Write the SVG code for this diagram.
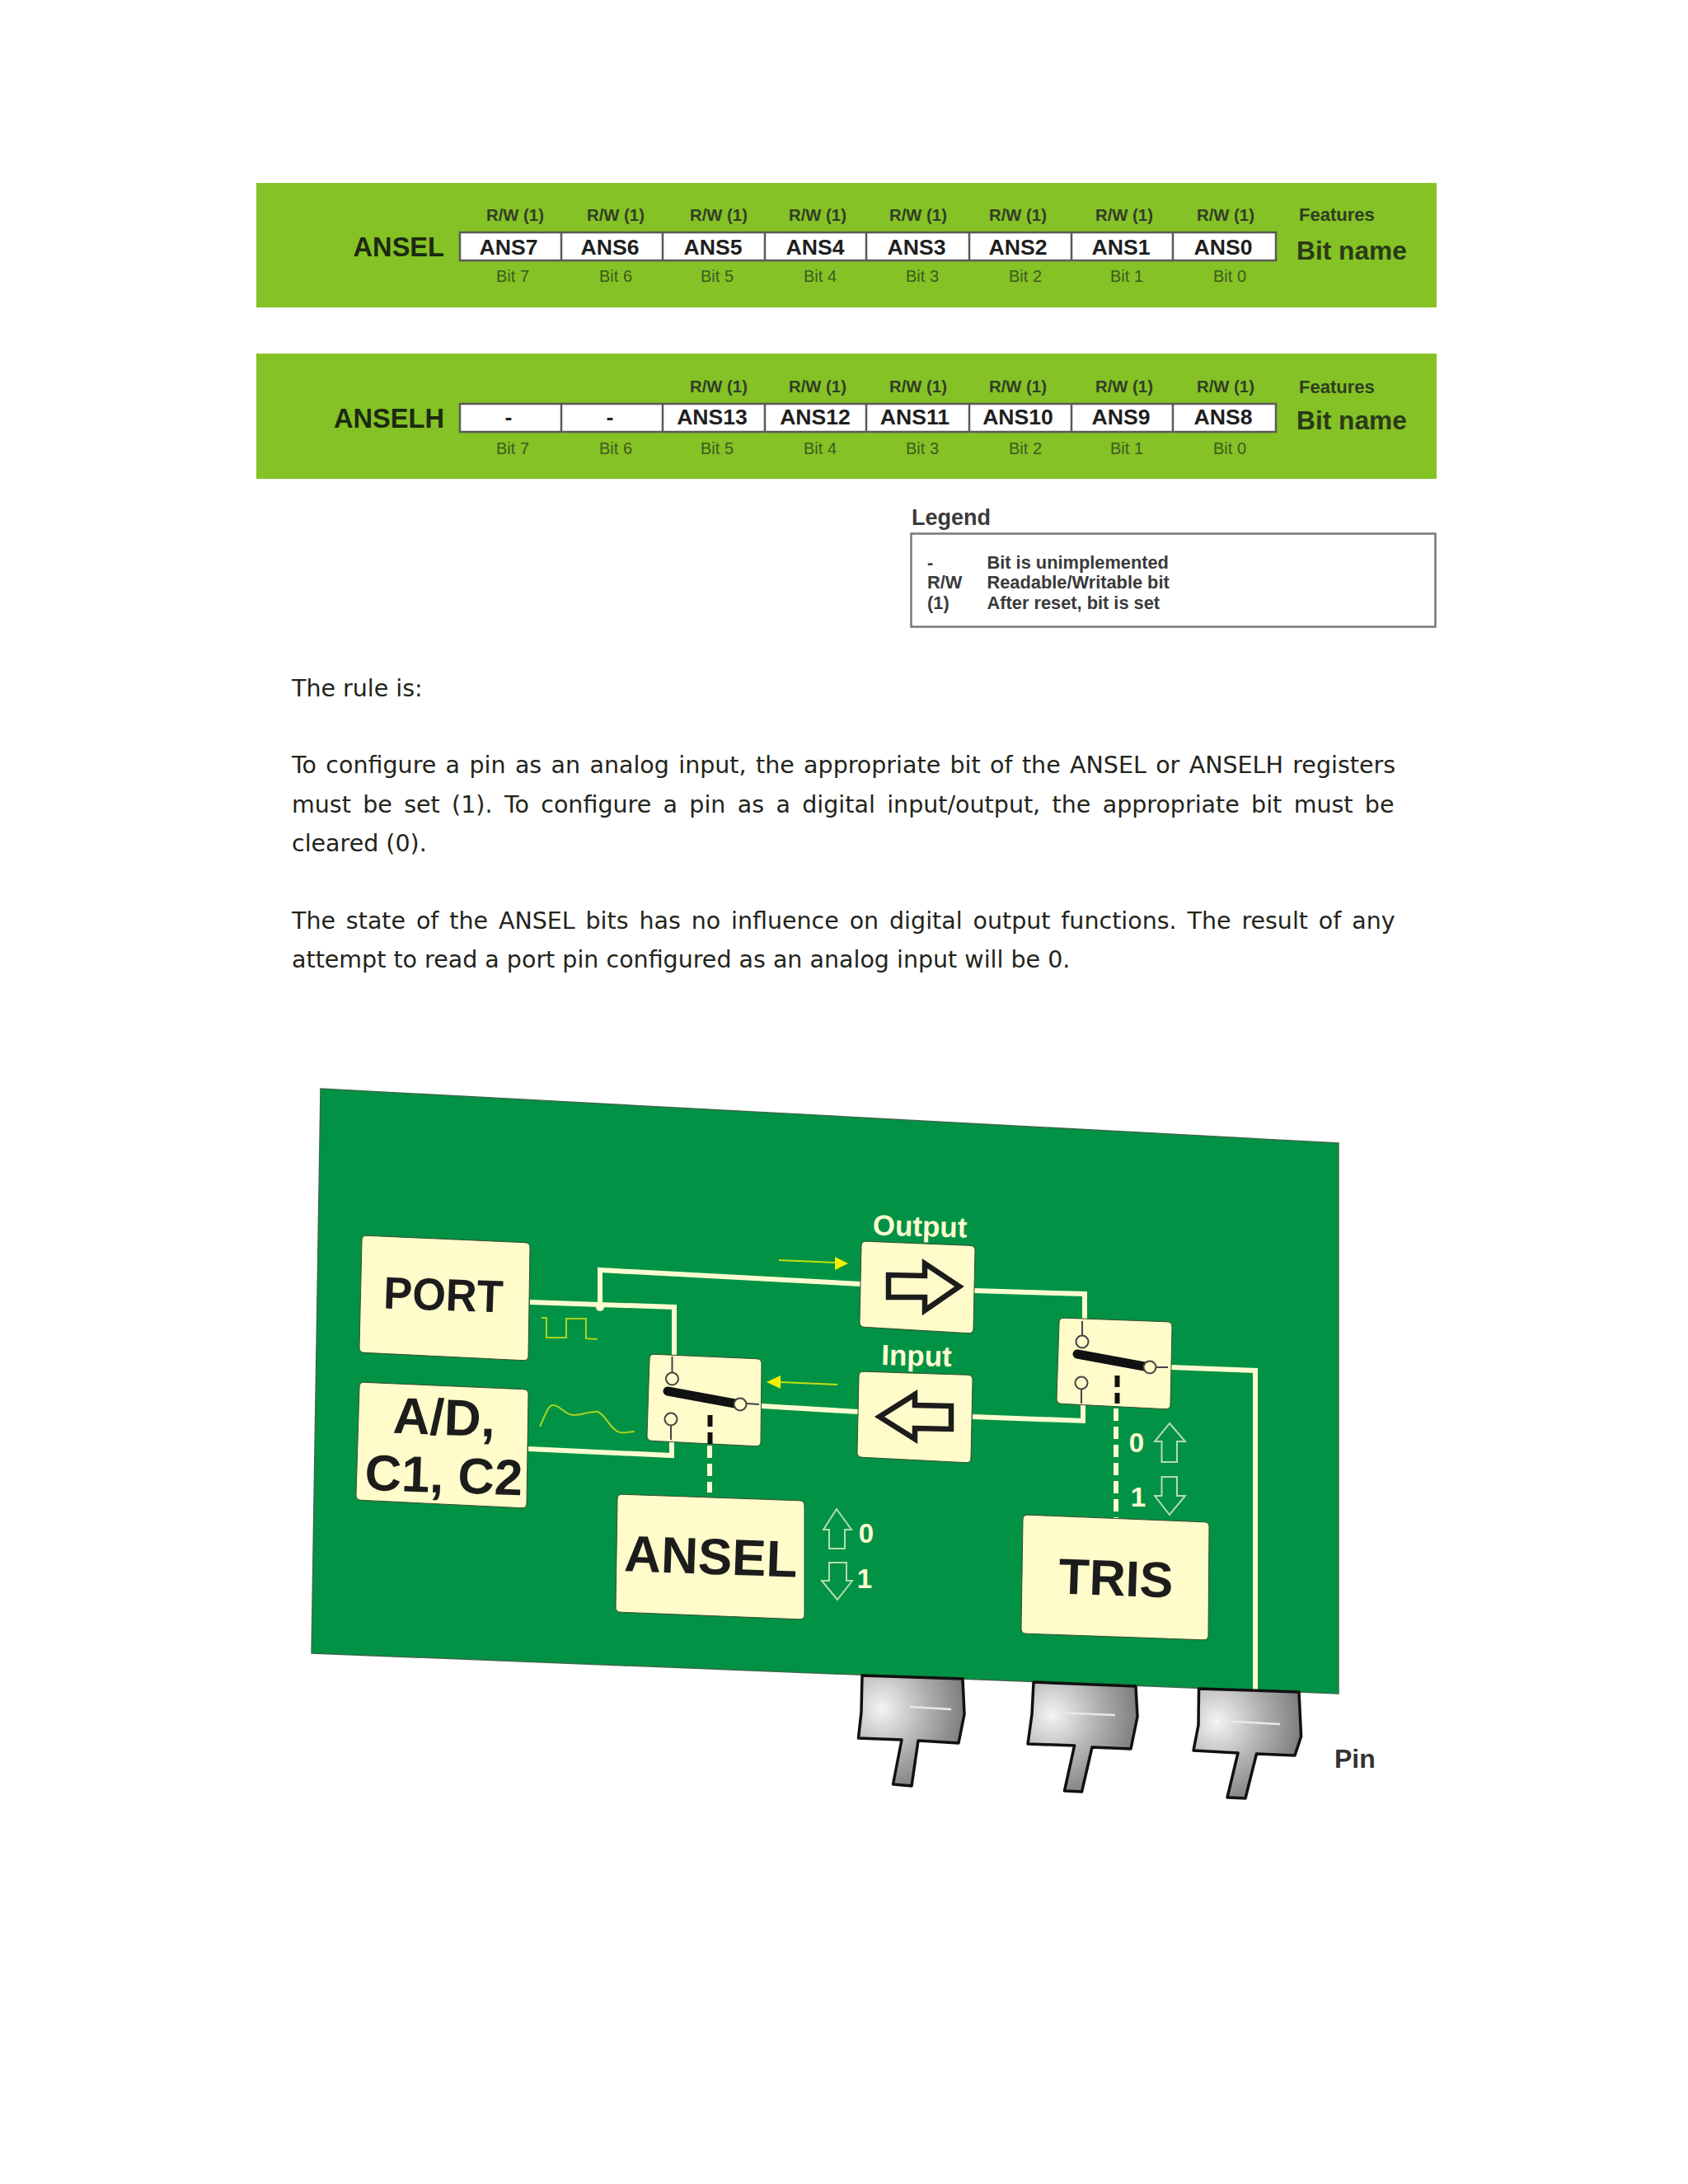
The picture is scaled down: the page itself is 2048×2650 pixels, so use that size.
<svg xmlns="http://www.w3.org/2000/svg" width="2048" height="2650" viewBox="0 0 2048 2650">
<style>
text{font-family:"Liberation Sans",Arial,sans-serif}
.band{fill:#84c225}
.cell{fill:#fff;stroke:#5a5a5a;stroke-width:2.5}
.rw{font-size:20.300px;font-weight:700;fill:#333d28;text-anchor:middle}
.nm{font-size:26.600px;font-weight:700;fill:#1f1f1f;text-anchor:middle}
.bit{font-size:20px;fill:#3f5a20;text-anchor:middle}
.reg{font-size:32.600px;font-weight:700;fill:#1d2a10;text-anchor:end}
.fe{font-size:22px;font-weight:700;fill:#2f3d20}
.bn{font-size:31.700px;font-weight:700;fill:#2a3a18}
.lg{font-size:21.800px;font-weight:700;fill:#3a3a3a}
.body{font-family:"DejaVu Sans",sans-serif;font-size:28.500px;fill:#23241a}
.box{fill:#fffbcb;stroke:#3a4a2a;stroke-width:1}
.big{font-weight:700;fill:#1c1c1c;text-anchor:middle}
.wire{fill:none;stroke:#fdfbd0;stroke-width:6}
.thin{fill:none;stroke:#444;stroke-width:2}
.sig{fill:none;stroke:#a8d41e;stroke-width:2}
.dot{fill:#fffbcb;stroke:#444;stroke-width:2}
.lever{stroke:#111;stroke-width:11;stroke-linecap:round}
.gl{font-weight:700;fill:#fdfbd0;font-size:35px;text-anchor:middle}
.num{font-weight:700;fill:#fdfbd0;font-size:33px;text-anchor:middle}
.updn{fill:none;stroke:#b5dcb0;stroke-width:2}
.bigarrow{fill:none;stroke:#1c1c1c;stroke-width:6.500}
.ya{fill:#f2f000}
.yl{stroke:#c4e010;stroke-width:2;fill:none}
.pin{fill:url(#metal);stroke:#111;stroke-width:3.500;stroke-linejoin:round}
.hl{stroke:#e8e8e8;stroke-width:2.500;fill:none}
</style>
<defs>
<radialGradient id="metal" cx="0.22" cy="0.3" r="0.95">
<stop offset="0" stop-color="#f4f4f4"/><stop offset="0.45" stop-color="#b0b0b0"/><stop offset="1" stop-color="#666"/>
</radialGradient>
</defs>
<rect width="2048" height="2650" fill="#fff"/>

<g id="ansel-register">
<rect class="band" x="311" y="222" width="1432" height="151"/>
<text class="reg" x="539" y="311">ANSEL</text>
<path class="cell" d="M558 282H1548V316H558Z"/>
<path class="cell" fill="none" d="M681 282V316M804 282V316M928 282V316M1051 282V316M1176 282V316M1300 282V316M1423 282V316"/>
<text class="rw" x="625" y="268">R/W (1)</text><text class="rw" x="747" y="268">R/W (1)</text><text class="rw" x="872" y="268">R/W (1)</text><text class="rw" x="992" y="268">R/W (1)</text><text class="rw" x="1114" y="268">R/W (1)</text><text class="rw" x="1235" y="268">R/W (1)</text><text class="rw" x="1364" y="268">R/W (1)</text><text class="rw" x="1487" y="268">R/W (1)</text>
<text class="nm" x="617" y="309">ANS7</text><text class="nm" x="740" y="309">ANS6</text><text class="nm" x="865" y="309">ANS5</text><text class="nm" x="989" y="309">ANS4</text><text class="nm" x="1112" y="309">ANS3</text><text class="nm" x="1235" y="309">ANS2</text><text class="nm" x="1360" y="309">ANS1</text><text class="nm" x="1484" y="309">ANS0</text>
<text class="bit" x="622" y="342">Bit 7</text><text class="bit" x="747" y="342">Bit 6</text><text class="bit" x="870" y="342">Bit 5</text><text class="bit" x="995" y="342">Bit 4</text><text class="bit" x="1119" y="342">Bit 3</text><text class="bit" x="1244" y="342">Bit 2</text><text class="bit" x="1367" y="342">Bit 1</text><text class="bit" x="1492" y="342">Bit 0</text>
<text class="fe" x="1576" y="268">Features</text>
<text class="bn" x="1573" y="315">Bit name</text>
</g>

<g id="anselh-register">
<rect class="band" x="311" y="429" width="1432" height="152"/>
<text class="reg" x="539" y="519">ANSELH</text>
<path class="cell" d="M558 490H1548V524H558Z"/>
<path class="cell" fill="none" d="M681 490V524M804 490V524M928 490V524M1051 490V524M1176 490V524M1300 490V524M1423 490V524"/>
<text class="rw" x="872" y="476">R/W (1)</text><text class="rw" x="992" y="476">R/W (1)</text><text class="rw" x="1114" y="476">R/W (1)</text><text class="rw" x="1235" y="476">R/W (1)</text><text class="rw" x="1364" y="476">R/W (1)</text><text class="rw" x="1487" y="476">R/W (1)</text>
<text class="nm" x="617" y="515">-</text><text class="nm" x="740" y="515">-</text><text class="nm" x="864" y="515">ANS13</text><text class="nm" x="989" y="515">ANS12</text><text class="nm" x="1110" y="515">ANS11</text><text class="nm" x="1235" y="515">ANS10</text><text class="nm" x="1360" y="515">ANS9</text><text class="nm" x="1484" y="515">ANS8</text>
<text class="bit" x="622" y="551">Bit 7</text><text class="bit" x="747" y="551">Bit 6</text><text class="bit" x="870" y="551">Bit 5</text><text class="bit" x="995" y="551">Bit 4</text><text class="bit" x="1119" y="551">Bit 3</text><text class="bit" x="1244" y="551">Bit 2</text><text class="bit" x="1367" y="551">Bit 1</text><text class="bit" x="1492" y="551">Bit 0</text>
<text class="fe" x="1576" y="477">Features</text>
<text class="bn" x="1573" y="521">Bit name</text>
</g>

<g id="legend">
<text x="1106" y="637" font-size="27" font-weight="700" fill="#3a3a3a">Legend</text>
<rect x="1105.500" y="647.500" width="636" height="113" fill="#fff" stroke="#777" stroke-width="2.500"/>
<text class="lg" x="1125" y="690">-</text><text class="lg" x="1197.500" y="690">Bit is unimplemented</text>
<text class="lg" x="1125" y="714">R/W</text><text class="lg" x="1197.500" y="714">Readable/Writable bit</text>
<text class="lg" x="1125" y="739">(1)</text><text class="lg" x="1197.500" y="739">After reset, bit is set</text>
</g>

<g id="body-text">
<text class="body" x="354" y="845">The rule is:</text>
<text class="body" x="354" y="938" word-spacing="2.300">To configure a pin as an analog input, the appropriate bit of the ANSEL or ANSELH registers</text>
<text class="body" x="354" y="986" word-spacing="5.300">must be set (1). To configure a pin as a digital input/output, the appropriate bit must be</text>
<text class="body" x="354" y="1033">cleared (0).</text>
<text class="body" x="354" y="1127" word-spacing="3.800">The state of the ANSEL bits has no influence on digital output functions. The result of any</text>
<text class="body" x="354" y="1174">attempt to read a port pin configured as an analog input will be 0.</text>
</g>

<g id="board">
<polygon points="389,1321 1624,1387 1624,2055 378,2006" fill="#019245" stroke="#3a6a4a" stroke-width="1.500"/>
</g>

<g id="connectors">
<path class="wire" d="M643 1580L818 1586V1644"/>
<path class="wire" d="M728 1584V1541L1044 1558"/>
<circle cx="728" cy="1586" r="5" fill="#fdfbd0"/>
<path class="wire" d="M641 1758L815 1766V1749"/>
<path class="wire" d="M924 1706L1041 1713"/>
<path class="wire" d="M1182 1566L1316 1570V1600"/>
<path class="wire" d="M1180 1719L1314 1724V1705"/>
<path class="wire" d="M1420 1659L1523 1663V2052"/>
<path d="M861 1754V1811" stroke="#fdfbd0" stroke-width="6" stroke-dasharray="15 7"/>
<path d="M1354 1709V1842" stroke="#fdfbd0" stroke-width="6" stroke-dasharray="15 7"/>
<path class="sig" d="M657 1599H663V1623H687V1600H711V1624L725 1625"/>
<path class="sig" d="M655 1731C662 1716 665 1705 671 1705C680 1705 685 1717 696 1717C708 1717 714 1712 725 1713C735 1716 740 1735 752 1738C758 1739 764 1737 770 1737"/>
<path class="yl" d="M945 1529L1014 1532"/><polygon class="ya" points="1013,1525 1029,1533 1013,1541"/>
<path class="yl" d="M1016 1680L946 1677"/><polygon class="ya" points="947,1669 930,1677 947,1685"/>
</g>

<g id="pins">
<polygon class="pin" points="1046,2033 1168,2037 1170,2080 1163,2115 1114,2112 1106,2167 1083.500,2165 1094,2111 1041.500,2109 1045,2077"/>
<path class="hl" d="M1104 2071L1154 2074"/>
<polygon class="pin" points="1254,2041 1378,2046 1380,2083 1372,2122 1325,2120 1312.500,2174 1291.500,2173 1303.600,2118 1247,2116 1252,2080"/>
<path class="hl" d="M1279 2078L1353 2081"/>
<polygon class="pin" points="1454.500,2049 1576,2053 1578.600,2107 1571,2130 1524.500,2128 1511,2182 1489,2181 1502,2127 1448,2124 1454,2093"/>
<path class="hl" d="M1480 2088L1553 2092"/>
<text x="1619" y="2145" font-size="32" font-weight="700" fill="#333">Pin</text>
</g>

<g id="port"><path class="box" d="M445 1499.300L637 1507.700Q643 1508 643 1514L641 1645Q641 1651 635 1650.700L442 1641.300Q436 1641 436 1635L439 1505Q439 1499 445 1499.300Z"/>
<text class="big" font-size="55" transform="rotate(2 539 1570)" x="538" y="1590" textLength="145" lengthAdjust="spacingAndGlyphs">PORT</text></g>
<g id="ad"><path class="box" d="M442 1677.300L635 1685.700Q641 1686 641 1692L639 1824Q639 1830 633 1829.700L438 1820.300Q432 1820 432 1814L436 1683Q436 1677 442 1677.300Z"/>
<text class="big" font-size="62" transform="rotate(2 538 1750)" x="538" y="1741">A/D,</text>
<text class="big" font-size="61.500" transform="rotate(2 538 1790)" x="538.500" y="1811">C1, C2</text></g>
<g id="ansel"><path class="box" d="M755 1813.200L970 1820.800Q976 1821 976 1827V1959Q976 1965 970 1964.800L753 1956.200Q747 1956 747 1950L749 1819Q749 1813 755 1813.200Z"/>
<text class="big" font-size="62" transform="rotate(2 863 1890)" x="862.500" y="1910">ANSEL</text></g>
<g id="tris"><path class="box" d="M1247 1838.200L1461 1846.800Q1467 1847 1467 1853L1466 1984Q1466 1990 1460 1989.800L1245 1982.200Q1239 1982 1239 1976L1241 1844Q1241 1838 1247 1838.200Z"/>
<text class="big" font-size="61" transform="rotate(2 1354 1915)" x="1354" y="1936">TRIS</text></g>

<g id="switch-left"><path class="box" d="M794 1643.300L918 1648.700Q924 1649 924 1655L923 1749Q923 1755 917 1754.700L791 1748.300Q785 1748 785 1742L788 1649Q788 1643 794 1643.300Z"/>
<path class="thin" d="M815.500 1646V1666M814 1729V1747M906 1703L921 1704"/>
<line class="lever" x1="810" y1="1688" x2="897" y2="1704"/>
<circle class="dot" cx="815.500" cy="1673" r="7.500"/><circle class="dot" cx="814" cy="1722" r="7.500"/><circle class="dot" cx="898" cy="1704" r="7.500"/>
<path d="M861.500 1717V1752" stroke="#111" stroke-width="6" stroke-dasharray="14 7"/></g>
<g id="switch-right"><path class="box" d="M1291 1599.200L1416 1603.800Q1422 1604 1422 1610L1420 1704Q1420 1710 1414 1709.700L1288 1703.300Q1282 1703 1282 1697L1285 1605Q1285 1599 1291 1599.200Z"/>
<path class="thin" d="M1313 1603V1621M1312 1685V1703M1402 1659H1417"/>
<line class="lever" x1="1307" y1="1643" x2="1394" y2="1659"/>
<circle class="dot" cx="1313" cy="1628" r="7.500"/><circle class="dot" cx="1312" cy="1678" r="7.500"/><circle class="dot" cx="1395" cy="1659" r="7.500"/>
<path d="M1355.500 1669V1703" stroke="#111" stroke-width="6" stroke-dasharray="14 7"/></g>

<g id="output"><path class="box" d="M1051 1506.200L1177 1511.300Q1183 1511.500 1183 1517.500L1181 1612Q1181 1618 1175 1617.700L1049 1610.300Q1043 1610 1043 1604L1045 1512Q1045 1506 1051 1506.200Z"/>
<polygon class="bigarrow" points="1078,1547 1122,1548 1122,1533 1164,1561 1122,1590 1122,1574 1078,1574"/>
<text class="gl" x="1116" y="1500" transform="rotate(1.500 1116 1490)">Output</text></g>
<g id="input"><path class="box" d="M1048 1664.200L1174 1668.300Q1180 1668.500 1180 1674.500L1178 1769Q1178 1775 1172 1774.700L1046 1768.300Q1040 1768 1040 1762L1042 1670Q1042 1664 1048 1664.200Z"/>
<polygon class="bigarrow" points="1154,1706 1110,1705 1110,1692 1067,1719 1110,1746 1110,1733 1154,1734"/>
<text class="gl" x="1112" y="1657" transform="rotate(1.500 1112 1647)">Input</text></g>

<g id="state-arrows">
<polygon class="updn" points="1015,1831 1033,1856 1025,1856 1025,1879 1006,1879 1006,1856 999,1856"/>
<polygon class="updn" points="1016,1941 997,1918 1006,1918 1006,1896 1027,1896 1027,1918 1034,1918"/>
<text class="num" x="1051" y="1872">0</text><text class="num" x="1049" y="1927">1</text>
<polygon class="updn" points="1419,1727 1438,1749 1428,1749 1428,1774 1409.500,1774 1409.500,1749 1401,1749"/>
<polygon class="updn" points="1419,1838 1401,1815 1409.500,1815 1409.500,1792 1428,1792 1428,1815 1438,1815"/>
<text class="num" x="1379" y="1762">0</text><text class="num" x="1381" y="1828">1</text>
</g>
</svg>
